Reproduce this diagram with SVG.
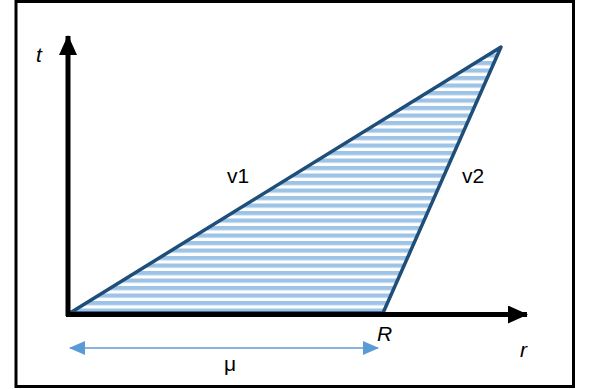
<svg xmlns="http://www.w3.org/2000/svg" width="589" height="389" viewBox="0 0 589 389">
<style>
.lbl{font-family:"Liberation Sans","Open Sans",sans-serif;font-size:21px;fill:#000}
.it{font-style:italic}
</style>
<defs>
<pattern id="hatch" patternUnits="userSpaceOnUse" x="0" y="1" width="10" height="7.5">
<rect x="0" y="0" width="10" height="4.2" fill="#9DC3E6"/>
</pattern>
<marker id="axhead" viewBox="0 0 20 18" refX="19" refY="9" markerWidth="20" markerHeight="18" markerUnits="userSpaceOnUse" orient="auto">
<path d="M0,0 L20,9 L0,18 Z" fill="#000"/>
</marker>
<marker id="muhead" viewBox="0 0 16 14" refX="15" refY="7" markerWidth="16" markerHeight="14" markerUnits="userSpaceOnUse" orient="auto-start-reverse">
<path d="M0,0 L16,7 L0,14 Z" fill="#5B9BD5"/>
</marker>
</defs>
<rect x="16" y="1.5" width="557.5" height="385" fill="#fff" stroke="#000" stroke-width="3"/>
<g id="region">
<polygon points="70,313 501,47 383,313" fill="url(#hatch)" stroke="#1F4E79" stroke-width="3.5" stroke-linejoin="round"/>
</g>
<g id="connectors">
<line x1="68" y1="316" x2="68" y2="36" stroke="#000" stroke-width="5" marker-end="url(#axhead)"/>
<line x1="66" y1="314.5" x2="527" y2="314.5" stroke="#000" stroke-width="5" marker-end="url(#axhead)"/>
<line x1="70" y1="348" x2="378" y2="348" stroke="#5B9BD5" stroke-width="1.5" marker-start="url(#muhead)" marker-end="url(#muhead)"/>
</g>
<g id="labels">
<text class="lbl it" x="36" y="62">t</text>
<text class="lbl" x="227" y="183">v1</text>
<text class="lbl" x="462" y="183">v2</text>
<text class="lbl it" x="377" y="341">R</text>
<text class="lbl it" x="520" y="357">r</text>
<text class="lbl" x="224" y="371">μ</text>
</g>
</svg>
